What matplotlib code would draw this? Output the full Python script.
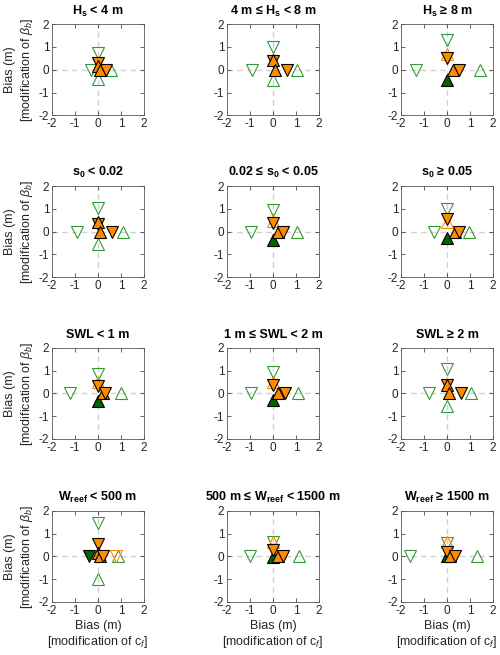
import numpy as np
import matplotlib
matplotlib.use('Agg')
import matplotlib.pyplot as plt

plt.rcParams['font.family'] = ['Liberation Sans', 'DejaVu Sans']
plt.rcParams['mathtext.fontset'] = 'custom'
plt.rcParams['mathtext.rm'] = 'Liberation Sans'
plt.rcParams['mathtext.it'] = 'Liberation Sans:italic'
plt.rcParams['mathtext.bf'] = 'Liberation Sans:bold'
plt.rcParams['axes.unicode_minus'] = False

nan = np.nan

titles = [r'$\mathbf{H_s}$ < 4 m', r'4 m ≤ $\mathbf{H_s}$ < 8 m', r'$\mathbf{H_s}$ ≥ 8 m',
          r'$\mathbf{s_0}$ < 0.02', r'0.02 ≤ $\mathbf{s_0}$ < 0.05', r'$\mathbf{s_0}$ ≥ 0.05',
          'SWL < 1 m', '1 m ≤ SWL < 2 m', 'SWL ≥ 2 m',
          r'$\mathbf{W_{reef}}$ < 500 m', r'500 m ≤ $\mathbf{W_{reef}}$ < 1500 m',
          r'$\mathbf{W_{reef}}$ ≥ 1500 m']

# markers on the x axis (modification of cf): bias in x
cf_green_dn = [-0.3, -0.9, -1.35, -0.9, -0.95, -0.55, -1.2, -0.95, -0.8, nan, -1.0, -1.6]
cf_green_up = [0.58, 1.05, 1.45, 1.08, 1.05, 0.95, 1.0, 1.1, 1.05, 0.85, 1.15, 1.3]
cf_dkgreen_dn = [nan, nan, nan, nan, nan, nan, nan, nan, nan, -0.4, nan, nan]
cf_orange_open_dn = [nan, nan, nan, nan, nan, nan, nan, nan, nan, 0.8, nan, nan]
cf_orange_up = [0.08, 0.1, 0.25, 0.1, 0.2, 0.35, 0.2, 0.2, 0.1, 0.1, 0.2, 0.15]
cf_orange_dn = [0.35, 0.6, 0.52, 0.62, 0.45, 0.5, 0.32, 0.52, 0.63, 0.2, 0.42, 0.35]

# markers on the y axis (modification of beta_b): bias in y
bb_green_dn = [0.72, 1.0, 1.3, 1.03, 0.95, 1.0, 0.85, 0.95, 1.05, 1.45, 0.65, 0.6]
bb_green_up = [-0.4, -0.45, nan, -0.55, nan, nan, nan, nan, -0.55, -1.0, nan, nan]
bb_dkgreen_up = [nan, nan, -0.45, nan, -0.35, -0.3, -0.35, -0.28, nan, nan, -0.02, 0.0]
bb_orange_open_up = [nan, nan, 0.68, nan, 0.45, 0.4, 0.5, 0.5, nan, nan, 0.62, 0.65]
bb_orange_dn = [0.3, 0.38, 0.52, 0.35, 0.38, 0.55, 0.3, 0.35, 0.35, 0.55, 0.3, 0.2]
bb_orange_up = [0.15, 0.45, nan, 0.4, nan, nan, nan, nan, 0.38, 0.15, nan, nan]

green = '#339933'
orange = '#ff8c00'
dkgreen = '#006400'
axcol = '#262626'

fig = plt.figure(figsize=(5, 6.55), dpi=100)
lefts = [0.104, 0.454, 0.802]
bottoms = [0.824, 0.577, 0.330, 0.081]
w, h = 0.184, 0.139

for i in range(12):
    r, c = divmod(i, 3)
    ax = fig.add_axes([lefts[c], bottoms[r], w, h])
    ax.axhline(0, color='0.82', lw=1, ls=(0, (4, 3)), zorder=0)
    ax.axvline(0, color='0.82', lw=1, ls=(0, (4, 3)), zorder=0)

    def pt(x, y, m, fc, ec, ms=9, lw=0.8):
        if np.isnan(x) or np.isnan(y):
            return
        ax.plot(x, y, m, ms=ms, mfc=fc, mec=ec, mew=lw, clip_on=False)

    pt(cf_green_dn[i], 0, 'v', 'none', green)
    pt(cf_green_up[i], 0, '^', 'none', green)
    pt(0, bb_green_dn[i], 'v', 'none', green)
    pt(0, bb_green_up[i], '^', 'none', green)
    pt(0, bb_orange_open_up[i], '^', 'none', orange, ms=8.5)
    pt(cf_orange_open_dn[i], 0, 'v', 'none', orange, ms=8.5)
    pt(0, bb_dkgreen_up[i], '^', dkgreen, 'k', ms=8.5)
    pt(cf_dkgreen_dn[i], 0, 'v', dkgreen, 'k', ms=8.5)
    pt(0, bb_orange_dn[i], 'v', orange, 'k', ms=8.5)
    pt(0, bb_orange_up[i], '^', orange, 'k', ms=8.5)
    pt(cf_orange_up[i], 0, '^', orange, 'k', ms=8.5)
    pt(cf_orange_dn[i], 0, 'v', orange, 'k', ms=8.5)

    ax.set_xlim(-2, 2)
    ax.set_ylim(-2, 2)
    ax.set_xticks([-2, -1, 0, 1, 2])
    ax.set_yticks([-2, -1, 0, 1, 2])
    ax.tick_params(direction='in', length=3, width=0.5, top=True, right=True,
                   labelsize=8.5, colors=axcol, pad=2)
    for s in ax.spines.values():
        s.set_color('0.35')
        s.set_linewidth(0.6)
    ax.set_title(titles[i], fontsize=9, fontweight='bold', pad=7)
    if c == 0:
        ax.set_ylabel('Bias (m)\n[modification of $\\beta_b$]', fontsize=9, color=axcol,
                      labelpad=3)
    if r == 3:
        ax.set_xlabel('Bias (m)\n[modification of c$_f$]', fontsize=9, color=axcol,
                      labelpad=2)

fig.savefig('out.png', dpi=100)
